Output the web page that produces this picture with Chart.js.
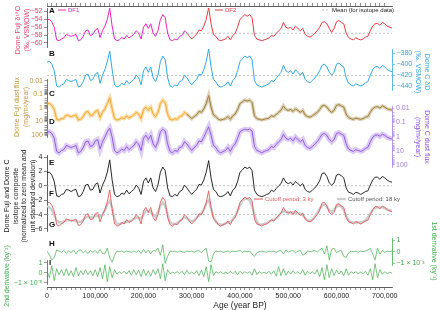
<!DOCTYPE html>
<html>
<head>
<meta charset="utf-8">
<script src="https://cdn.jsdelivr.net/npm/chart.js@4/dist/chart.umd.min.js"></script>
<style>
  html, body { margin: 0; padding: 0; background: #fff; }
  canvas { display: block; }
</style>
</head>
<body>
<canvas id="iceCores" width="440" height="310"></canvas>
<script>
// ages in ky BP (5 ky grid)
const agesKy = [
  0, 5, 10, 15, 20, 25, 30, 35, 40, 45, 50, 55,
  60, 65, 70, 75, 80, 85, 90, 95, 100, 105, 110, 115,
  120, 125, 130, 135, 140, 145, 150, 155, 160, 165, 170, 175,
  180, 185, 190, 195, 200, 205, 210, 215, 220, 225, 230, 235,
  240, 245, 250, 255, 260, 265, 270, 275, 280, 285, 290, 295,
  300, 305, 310, 315, 320, 325, 330, 335, 340, 345, 350, 355,
  360, 365, 370, 375, 380, 385, 390, 395, 400, 405, 410, 415,
  420, 425, 430, 435, 440, 445, 450, 455, 460, 465, 470, 475,
  480, 485, 490, 495, 500, 505, 510, 515, 520, 525, 530, 535,
  540, 545, 550, 555, 560, 565, 570, 575, 580, 585, 590, 595,
  600, 605, 610, 615, 620, 625, 630, 635, 640, 645, 650, 655,
  660, 665, 670, 675, 680, 685, 690, 695, 700, 705, 710, 715
];

// A: Dome Fuji d18O (permil)
const dfO18 = [
  -54.1, -54.0, -54.6, -56.0, -59.2, -59.4, -59.0, -58.7, -57.8, -58.1, -58.3, -58.1,
  -57.8, -59.4, -59.2, -58.3, -56.9, -56.7, -58.1, -57.8, -56.7, -56.3, -58.6, -56.9,
  -55.7, -54.0, -51.2, -55.7, -59.0, -59.4, -59.2, -58.6, -59.0, -58.1, -58.7, -58.3,
  -57.8, -56.9, -57.5, -59.0, -56.0, -55.1, -56.3, -55.1, -57.5, -58.3, -56.9, -54.0,
  -52.8, -53.6, -57.5, -59.2, -59.4, -59.0, -59.2, -58.3, -58.1, -56.9, -57.5, -58.3,
  -59.0, -58.3, -57.8, -56.7, -56.9, -55.7, -54.0, -51.0, -55.1, -57.8, -58.3, -59.2,
  -59.4, -59.2, -59.0, -58.3, -59.2, -58.1, -57.5, -56.0, -54.0, -53.4, -52.8, -53.2,
  -52.8, -53.6, -58.1, -59.0, -59.2, -59.4, -59.2, -59.0, -58.7, -58.1, -58.3, -57.6,
  -56.9, -56.3, -54.8, -56.0, -56.3, -56.0, -56.7, -55.7, -56.3, -56.9, -56.3, -57.8,
  -58.3, -58.5, -58.1, -57.5, -56.9, -56.0, -54.8, -54.6, -55.1, -56.3, -57.3, -56.3,
  -54.6, -54.3, -54.8, -55.1, -57.5, -58.6, -59.0, -59.2, -58.7, -59.0, -59.2, -59.0,
  -58.5, -58.3, -56.9, -55.7, -55.1, -55.0, -55.5, -54.8, -55.1, -55.7, -56.0, -56.2
];

// B: Dome C dD (permil)
const edcDD = [
  -396, -395, -400, -412, -440, -442, -438, -436, -428, -430, -432, -430,
  -428, -442, -440, -432, -420, -418, -430, -428, -418, -415, -435, -420,
  -410, -395, -376, -410, -438, -442, -440, -435, -438, -430, -436, -432,
  -428, -420, -425, -438, -412, -405, -415, -405, -425, -432, -420, -395,
  -385, -392, -425, -440, -442, -438, -440, -432, -430, -420, -425, -432,
  -438, -432, -428, -418, -420, -410, -395, -372, -405, -428, -432, -440,
  -442, -440, -438, -432, -440, -430, -425, -412, -395, -390, -385, -388,
  -385, -392, -430, -438, -440, -442, -440, -438, -436, -430, -432, -426,
  -420, -415, -402, -412, -415, -412, -418, -410, -415, -420, -415, -428,
  -432, -434, -430, -425, -420, -412, -402, -400, -405, -415, -420, -415,
  -400, -398, -402, -405, -425, -435, -438, -440, -436, -438, -440, -438,
  -434, -432, -420, -410, -405, -404, -408, -402, -405, -410, -412, -414
];

// C: Dome Fuji dust flux (mg/m2/year)
const dfDust = [
  0.5, 0.45, 0.65, 1.3, 6.9, 7.8, 6.2, 5.6, 3.3, 3.8, 4.3, 3.8,
  3.3, 7.8, 6.9, 4.3, 2.1, 1.8, 3.8, 3.3, 1.8, 1.5, 5.1, 2.1,
  1.15, 0.47, 0.17, 1.15, 6.2, 7.8, 6.9, 5.1, 6.2, 3.8, 5.6, 4.3,
  3.3, 2.1, 2.8, 6.2, 1.3, 0.85, 1.5, 0.85, 2.8, 4.3, 2.1, 0.47,
  0.26, 0.4, 2.8, 6.9, 7.8, 6.2, 6.9, 4.3, 3.8, 2.1, 2.8, 4.3,
  6.2, 4.3, 3.3, 1.8, 2.1, 1.15, 0.47, 0.12, 0.85, 3.3, 4.3, 6.9,
  7.8, 6.9, 6.2, 4.3, 6.9, 3.8, 2.8, 1.3, 0.47, 0.35, 0.26, 0.31,
  0.26, 0.4, 3.8, 6.2, 6.9, 7.8, 6.9, 6.2, 5.6, 3.8, 4.3, 3.0,
  2.1, 1.5, 0.7, 1.3, 1.5, 1.3, 1.8, 1.15, 1.5, 2.1, 1.5, 3.3,
  4.3, 4.8, 3.8, 2.8, 2.1, 1.3, 0.7, 0.63, 0.85, 1.5, 2.1, 1.5,
  0.63, 0.56, 0.7, 0.85, 2.8, 5.1, 6.2, 6.9, 5.6, 6.2, 6.9, 6.2,
  4.8, 4.3, 2.1, 1.15, 0.85, 0.8, 1.0, 0.7, 0.85, 1.15, 1.3, 1.45
];

// D: Dome C dust flux (mg/m2/year)
const edcDust = [
  0.47, 0.45, 0.6, 1.3, 11, 14, 9.5, 8.2, 4.2, 5, 5.8, 5,
  4.2, 14, 11, 5.8, 2.3, 2.0, 5, 4.2, 2.0, 1.6, 7.5, 2.3,
  1.1, 0.45, 0.25, 1.1, 9.5, 14, 11, 7.5, 9.5, 5, 8.2, 5.8,
  4.2, 2.3, 3.3, 9.5, 1.3, 0.8, 1.6, 0.8, 3.3, 5.8, 2.3, 0.45,
  0.3, 0.4, 3.3, 11, 14, 9.5, 11, 5.8, 5, 2.3, 3.3, 5.8,
  9.5, 5.8, 4.2, 2.0, 2.3, 1.1, 0.45, 0.2, 0.8, 4.2, 5.8, 11,
  14, 11, 9.5, 5.8, 11, 5, 3.3, 1.3, 0.45, 0.35, 0.3, 0.33,
  0.3, 0.4, 5, 9.5, 11, 14, 11, 9.5, 8.2, 5, 5.8, 3.6,
  2.3, 1.6, 0.68, 1.3, 1.6, 1.3, 2.0, 1.1, 1.6, 2.3, 1.6, 4.2,
  5.8, 6.8, 5, 3.3, 2.3, 1.3, 0.68, 0.6, 0.8, 1.6, 2.3, 1.6,
  0.6, 0.52, 0.68, 0.8, 3.3, 7.5, 9.5, 11, 8.2, 9.5, 11, 9.5,
  6.8, 5.8, 2.3, 1.1, 0.8, 0.75, 0.95, 0.68, 0.8, 1.1, 1.3, 1.5
];

// E: normalized isotope composite
const composite = [
  1.8, 1.9, 1.5, 0.6, -1.4, -1.5, -1.2, -1.1, -0.5, -0.6, -0.8, -0.6,
  -0.5, -1.5, -1.4, -0.8, 0.1, 0.2, -0.6, -0.5, 0.2, 0.4, -1.0, 0.1,
  0.8, 1.9, 3.6, 0.8, -1.2, -1.5, -1.4, -1.0, -1.2, -0.6, -1.1, -0.8,
  -0.5, 0.1, -0.3, -1.2, 0.6, 1.1, 0.4, 1.1, -0.3, -0.8, 0.1, 1.9,
  2.6, 2.1, -0.3, -1.4, -1.5, -1.2, -1.4, -0.8, -0.6, 0.1, -0.3, -0.8,
  -1.2, -0.8, -0.5, 0.2, 0.1, 0.8, 1.9, 3.5, 1.1, -0.5, -0.8, -1.4,
  -1.5, -1.4, -1.2, -0.8, -1.4, -0.6, -0.3, 0.6, 1.9, 2.2, 2.6, 2.4,
  2.6, 2.1, -0.6, -1.2, -1.4, -1.5, -1.4, -1.2, -1.1, -0.6, -0.8, -0.4,
  0.0, 0.3, 1.1, 0.5, 0.3, 0.5, 0.1, 0.6, 0.3, 0.0, 0.3, -0.5,
  -0.8, -0.9, -0.6, -0.3, 0.1, 0.7, 1.7, 1.8, 1.3, 0.4, 0.1, 0.4,
  1.5, 1.6, 1.4, 1.1, -0.3, -0.9, -1.0, -1.2, -0.9, -1.0, -1.2, -1.0,
  -0.8, -0.7, 0.1, 0.8, 1.2, 1.2, 0.9, 1.3, 1.1, 0.8, 0.6, 0.5
];

// F: filtered composite (shifted), 3 ky and 18 ky cutoff
const filtered3ky = [
  -2.4, -2.3, -2.7, -3.5, -5.4, -5.6, -5.3, -5.1, -4.6, -4.7, -4.9, -4.8,
  -4.6, -5.5, -5.4, -4.9, -4.0, -3.9, -4.7, -4.6, -3.9, -3.7, -5.0, -4.0,
  -3.3, -2.2, -0.6, -3.2, -5.3, -5.6, -5.5, -5.1, -5.3, -4.7, -5.1, -4.9,
  -4.6, -4.0, -4.4, -5.3, -3.5, -3.0, -3.7, -3.0, -4.4, -4.9, -4.0, -2.3,
  -1.6, -2.1, -4.4, -5.4, -5.6, -5.3, -5.4, -4.9, -4.7, -4.0, -4.4, -4.9,
  -5.3, -4.9, -4.6, -3.9, -4.0, -3.3, -2.3, -0.7, -3.0, -4.6, -4.9, -5.4,
  -5.6, -5.4, -5.3, -4.9, -5.4, -4.7, -4.4, -3.5, -2.3, -1.9, -1.6, -1.8,
  -1.6, -2.1, -4.7, -5.3, -5.4, -5.6, -5.4, -5.3, -5.1, -4.7, -4.9, -4.5,
  -4.1, -3.8, -3.0, -3.6, -3.8, -3.6, -4.0, -3.4, -3.8, -4.1, -3.8, -4.6,
  -4.9, -5.0, -4.8, -4.4, -4.0, -3.4, -2.4, -2.3, -2.8, -3.7, -4.0, -3.7,
  -2.6, -2.5, -2.8, -3.0, -4.4, -5.0, -5.1, -5.3, -5.0, -5.1, -5.3, -5.1,
  -4.9, -4.8, -4.0, -3.3, -2.9, -2.9, -3.2, -2.8, -3.0, -3.3, -3.5, -3.6
];
const filtered18ky = [
  -2.8, -3.0, -3.4, -4.1, -4.8, -5.1, -5.1, -4.9, -4.8, -4.8, -4.8, -4.8,
  -4.9, -5.0, -5.0, -4.7, -4.4, -4.3, -4.4, -4.4, -4.2, -4.2, -4.3, -4.0,
  -3.4, -2.6, -2.1, -3.1, -4.6, -5.3, -5.3, -5.2, -5.1, -5.0, -4.9, -4.8,
  -4.6, -4.4, -4.5, -4.5, -4.0, -3.5, -3.5, -3.6, -4.0, -4.3, -3.7, -2.8,
  -2.3, -2.8, -4.0, -5.0, -5.3, -5.3, -5.2, -4.9, -4.6, -4.4, -4.5, -4.8,
  -4.9, -4.8, -4.4, -4.1, -3.8, -3.3, -2.5, -2.0, -3.1, -4.3, -5.0, -5.3,
  -5.4, -5.4, -5.2, -5.1, -5.0, -4.7, -4.2, -3.5, -2.7, -2.1, -1.8, -1.8,
  -2.0, -2.8, -4.0, -5.0, -5.4, -5.4, -5.3, -5.2, -5.0, -4.8, -4.7, -4.5,
  -4.2, -3.8, -3.5, -3.6, -3.7, -3.7, -3.7, -3.7, -3.8, -3.9, -4.1, -4.5,
  -4.8, -4.9, -4.7, -4.3, -3.8, -3.2, -2.7, -2.6, -2.9, -3.4, -3.6, -3.3,
  -2.9, -2.7, -2.9, -3.4, -4.2, -4.8, -5.1, -5.1, -5.1, -5.1, -5.1, -5.0,
  -4.8, -4.4, -3.9, -3.4, -3.1, -3.0, -3.0, -3.0, -3.1, -3.3, -3.4, -3.5
];

// G: event markers (ky BP)
const eventsDF = [6, 12, 21, 27, 33, 39, 46, 52, 58, 66, 75, 85, 104, 122, 130, 139, 145, 153, 159, 168,
  176, 186, 195, 213, 220, 228, 240, 251, 257, 263, 280, 288, 294, 300, 309, 335, 350, 356, 362, 371,
  377, 385, 424, 445, 453, 462, 470, 478, 489, 499, 509, 524, 530, 536, 545, 553, 559, 582, 588, 596,
  623, 632, 640, 648, 656, 665, 673, 681];
const eventsEDC = [7, 14, 22, 28, 35, 40, 47, 54, 60, 67, 76, 87, 105, 123, 132, 140, 146, 154, 161, 169,
  177, 187, 196, 215, 221, 229, 241, 252, 258, 264, 281, 289, 295, 302, 310, 336, 351, 357, 364, 372,
  378, 386, 426, 446, 455, 463, 471, 479, 490, 500, 510, 525, 531, 537, 546, 554, 560, 583, 590, 597,
  624, 633, 641, 649, 657, 666, 674, 682];

// H: 1st derivative (x 1e-3 ky^-1)
const deriv1 = [
  0.05, -0.3, -0.7, -0.5, 0.15, 0.05, -0.05, 0.1, -0.15, 0.1, -0.1, 0.15,
  -0.2, 0.1, 0.15, -0.1, 0.05, -0.15, 0.1, -0.05, 0.1, -0.15, 0.2, -0.15,
  -0.2, 0.3, -0.5, -0.9, -0.3, 0.05, 0.0, 0.05, -0.05, 0.05, 0.0, -0.05,
  0.05, -0.05, 0.1, -0.15, 0.2, -0.1, 0.15, -0.2, 0.1, 0.05, 0.3, -0.3,
  0.6, -1.0, -0.4, 0.05, 0.0, 0.05, -0.05, 0.05, 0.0, -0.05, 0.05, 0.0,
  0.05, -0.05, 0.05, 0.1, -0.1, 0.15, 0.3, -0.8, -0.9, -0.2, 0.05, 0.0,
  0.05, -0.05, 0.0, 0.05, -0.05, 0.05, 0.0, 0.05, 0.1, -0.05, 0.05, 0.0,
  0.05, -0.2, -0.4, -0.1, 0.0, 0.05, 0.0, -0.05, 0.05, 0.0, 0.05, -0.05,
  0.05, 0.1, -0.2, 0.15, -0.05, 0.05, 0.1, -0.1, 0.05, 0.1, -0.3, -0.2,
  0.05, 0.0, 0.05, 0.1, -0.05, 0.15, 0.3, -0.2, 0.5, -0.7, 0.2, 0.3,
  -0.1, 0.05, 0.1, -0.4, -0.5, -0.1, 0.05, 0.0, 0.05, -0.05, 0.05, 0.0,
  0.05, 0.15, 0.3, -0.2, -0.7, 0.3, -0.2, 0.1, -0.05, 0.05, 0.0, 0.05
];

// I: 2nd derivative (x 1e-5 ky^-2)
const deriv2 = [
  0.2, -0.5, 0.7, -0.8, 0.4, -0.2, 0.3, -0.3, 0.4, -0.3, 0.2, -0.4,
  0.5, -0.3, 0.2, -0.2, 0.3, -0.2, 0.2, -0.3, 0.3, -0.4, 0.5, -0.6,
  0.8, -0.9, 0.6, -0.5, 0.3, -0.15, 0.1, -0.1, 0.15, -0.15, 0.2, -0.25,
  0.3, -0.2, 0.25, -0.4, 0.35, -0.3, 0.2, -0.35, 0.3, -0.2, 0.4, -0.6,
  0.9, -0.8, 0.3, -0.1, 0.05, -0.05, 0.1, -0.1, 0.15, -0.2, 0.25, -0.15,
  0.1, -0.15, 0.2, -0.3, 0.25, -0.4, 0.6, -0.9, 0.8, -0.3, 0.1, -0.05,
  0.1, -0.1, 0.05, -0.1, 0.15, -0.1, 0.15, -0.2, 0.15, -0.1, 0.1, -0.05,
  0.1, -0.25, 0.4, -0.2, 0.1, -0.05, 0.05, -0.1, 0.15, -0.15, 0.2, -0.35,
  0.6, -0.3, 0.4, -0.25, 0.15, -0.15, 0.2, -0.1, 0.1, -0.15, 0.3, -0.25,
  0.15, -0.1, 0.1, -0.15, 0.3, -0.4, 0.5, -0.7, 0.8, -0.5, 0.4, -0.3,
  0.25, -0.15, 0.2, -0.3, 0.4, -0.25, 0.1, -0.05, 0.1, -0.1, 0.05, -0.1,
  0.15, -0.25, 0.4, -0.7, 0.9, -0.5, 0.3, -0.15, 0.1, -0.1, 0.05, -0.05
];

const meanO18 = -57.5;
const meanDD = -421;
const meanComposite = 0;
const meanFiltered = -4;
const eventRowDF = -6.5;
const eventRowEDC = -6.62;

const o18Ticks = [-60, -58, -56, -54, -52];
const ddTicks = [-440, -420, -400, -380];
const dustMajor = [0.01, 0.1, 1, 10, 100];
const compTicks = [-6, -4, -2, 0, 2, 4];
const derivTicks = [-1, 0, 1];
const DF_SPLIT = 290; // DF1 / DF2 boundary, ky

const FONT = "'Liberation Sans', Arial, Helvetica, sans-serif";
Chart.defaults.font.family = FONT;
const tickFont = { family: FONT, size: 7 };

const MAGENTA = '#e324c4';
const RED = '#e8393f';
const PINK = '#e5446d';
const BLUE = '#2fa9e4';
const ORANGE = '#f5a524';
const BROWN = '#9a782c';
const DUST_LABEL = '#c49440';
const PURPLE = '#8c4fe0';
const PURPLE_LIGHT = 'rgba(178, 140, 236, 0.45)';
const F_RED = '#e05a5a';
const GREY18 = '#cdcdcd';
const GREEN = '#3fae4a';
const MEAN_GREY = '#aaaaaa';

const LEFT_W = 47;
const RIGHT_W = 48;

const dustMinor = [];
[0.01, 0.1, 1, 10].forEach(d => { for (let k = 2; k < 10; k++) dustMinor.push(+(d * k).toPrecision(2)); });
const dustTicks = dustMajor.concat(dustMinor);

const minus = v => String(v).replace('-', '\u2212');

function spacer(position, weight, stackWeight) {
  return {
    type: 'linear', position, stack: 'panels', stackWeight, weight,
    ticks: { display: false }, grid: { display: false }, border: { display: false },
    afterFit: s => { s.width = position === 'left' ? LEFT_W : RIGHT_W; }
  };
}

function valueAxis(o) {
  return {
    type: o.type || 'linear', position: o.position, stack: 'panels',
    stackWeight: o.stackWeight, weight: o.weight,
    min: o.min, max: o.max, reverse: !!o.reverse,
    afterBuildTicks: s => { s.ticks = o.ticks.map(v => ({ value: v })); },
    ticks: { autoSkip: false, padding: 1.5, color: o.labelColor, font: tickFont, callback: o.labels },
    grid: { drawOnChartArea: false, tickLength: o.tickLength || 3, color: o.lineColor, lineWidth: 0.6 },
    border: { color: o.lineColor, width: 0.8 },
    afterFit: s => { s.width = o.position === 'left' ? LEFT_W : RIGHT_W; }
  };
}

const pts = ys => agesKy.map((a, i) => ({ x: a, y: ys[i] }));
const flat = (y) => [{ x: 0, y }, { x: 715, y }];
const byCore = (c1, c2) => ({ borderColor: c => (c.p0.parsed.x < DF_SPLIT ? c1 : c2) });

const datasets = [
  // mean lines
  { data: flat(meanO18), yAxisID: 'yA', borderColor: MEAN_GREY, borderDash: [2, 2], borderWidth: 0.7, order: 5 },
  { data: flat(meanDD), yAxisID: 'yB', borderColor: MEAN_GREY, borderDash: [2, 2], borderWidth: 0.7, order: 5 },
  { data: flat(meanComposite), yAxisID: 'yE', borderColor: MEAN_GREY, borderDash: [2, 2], borderWidth: 0.7, order: 5 },
  { data: flat(meanFiltered), yAxisID: 'yE', borderColor: MEAN_GREY, borderDash: [2, 2], borderWidth: 0.7, order: 5 },
  // A
  { data: pts(dfO18), yAxisID: 'yA', borderColor: MAGENTA, borderWidth: 1, segment: byCore(MAGENTA, RED), order: 1 },
  // B
  { data: pts(edcDD), yAxisID: 'yB', borderColor: BLUE, borderWidth: 1, order: 1 },
  // C (noise band + line)
  { data: pts(dfDust), yAxisID: 'yC', borderColor: ORANGE, borderWidth: 3.5,
    segment: byCore('rgba(245,165,36,0.4)', 'rgba(154,120,44,0.35)'), order: 3 },
  { data: pts(dfDust), yAxisID: 'yC', borderColor: ORANGE, borderWidth: 0.9, segment: byCore(ORANGE, BROWN), order: 1 },
  // D (noise band + line)
  { data: pts(edcDust), yAxisID: 'yD', borderColor: PURPLE_LIGHT, borderWidth: 5, order: 3 },
  { data: pts(edcDust), yAxisID: 'yD', borderColor: PURPLE, borderWidth: 0.9, order: 1 },
  // E
  { data: pts(composite), yAxisID: 'yE', borderColor: '#111', borderWidth: 0.9, order: 1 },
  // F
  { data: pts(filtered18ky), yAxisID: 'yE', borderColor: GREY18, borderWidth: 2.4, order: 3 },
  { data: pts(filtered3ky), yAxisID: 'yE', borderColor: F_RED, borderWidth: 0.9, order: 1 },
  // G
  { data: eventsDF.map(a => ({ x: a, y: eventRowDF })), yAxisID: 'yE', showLine: false,
    pointStyle: 'rect', pointRadius: 1.5, pointBackgroundColor: '#ec4f6a', pointBorderWidth: 0, order: 1 },
  { data: eventsEDC.map(a => ({ x: a, y: eventRowEDC })), yAxisID: 'yE', showLine: false,
    pointStyle: 'rect', pointRadius: 1.5, pointBackgroundColor: '#6a3fe0', pointBorderWidth: 0, order: 1 },
  // H, I
  { data: pts(deriv1), yAxisID: 'yH', borderColor: GREEN, borderWidth: 0.7, order: 1 },
  { data: pts(deriv2), yAxisID: 'yI', borderColor: GREEN, borderWidth: 0.7, order: 1 }
];

const panelLetters = [
  ['A', 'yA', -51.8], ['B', 'yB', -380], ['C', 'yC', 0.085], ['D', 'yC', 11],
  ['E', 'yE', 3.2], ['F', 'yE', -1.1], ['G', 'yE', -5.4], ['H', 'yH', 0.66], ['I', 'yI', 1.0]
];

const sideTitles = [
  { lines: ['Dome Fuji \u03b4\u00b9\u2078O', '(\u2030, VSMOW)'], color: PINK, x: 18, y: 30, gap: 9.5, rot: -1 },
  { lines: ['Dome Fuji dust flux', '(mg/m\u00b2/year)'], color: DUST_LABEL, x: 17, y: 107, gap: 9.5, rot: -1 },
  { lines: ['Dome Fuji and Dome C', 'isotope composite', '(normalized to zero mean and', 'unit standard deviation)'],
    color: '#222', x: 7.5, y: 196, gap: 8.5, rot: -1 },
  { lines: ['2nd derivative (ky\u207b\u00b2)'], color: GREEN, x: 7.5, y: 276, gap: 0, rot: -1 },
  { lines: ['Dome C \u03b4D', '(\u2030, VSMOW)'], color: BLUE, x: 427, y: 72, gap: 9, rot: 1 },
  { lines: ['Dome C dust flux', '(mg/m\u00b2/year)'], color: PURPLE, x: 427, y: 137, gap: 9.5, rot: 1 },
  { lines: ['1st derivative (ky\u207b\u00b9)'], color: GREEN, x: 434, y: 251, gap: 0, rot: 1 }
];

const legendItems = [
  { label: 'DF1', color: MAGENTA, text: MAGENTA, x: 58, y: 10, len: 8, width: 1 },
  { label: 'DF2', color: RED, text: RED, x: 215, y: 10, len: 8, width: 1 },
  { label: 'Mean (for isotope data)', color: MEAN_GREY, text: '#222', x: 322, y: 10, len: 8, width: 0.8, dash: [2, 2] },
  { label: 'Cutoff period: 3 ky', color: F_RED, text: F_RED, x: 254, y: 199, len: 9, width: 1 },
  { label: 'Cutoff period: 18 ky', color: GREY18, text: '#555', x: 337, y: 199, len: 9, width: 2.4 }
];

const annotate = {
  id: 'annotate',
  afterDraw(chart) {
    const { ctx, scales } = chart;
    ctx.save();
    ctx.textBaseline = 'middle';

    ctx.font = 'bold 8px ' + FONT;
    ctx.fillStyle = '#111';
    ctx.textAlign = 'left';
    panelLetters.forEach(([t, axis, v]) => {
      ctx.fillText(t, chart.chartArea.left + 2, scales[axis].getPixelForValue(v));
    });

    ctx.font = '7px ' + FONT;
    ctx.textAlign = 'center';
    sideTitles.forEach(t => {
      ctx.save();
      ctx.translate(t.x, t.y);
      ctx.rotate(t.rot * Math.PI / 2);
      ctx.fillStyle = t.color;
      t.lines.forEach((line, i) => ctx.fillText(line, 0, i * t.gap));
      ctx.restore();
    });

    ctx.font = '8.5px ' + FONT;
    ctx.fillStyle = '#222';
    ctx.fillText('Age (year BP)', scales.x.getPixelForValue(400), 305.5);

    ctx.font = '6px ' + FONT;
    ctx.textAlign = 'left';
    legendItems.forEach(it => {
      ctx.beginPath();
      ctx.setLineDash(it.dash || []);
      ctx.strokeStyle = it.color;
      ctx.lineWidth = it.width;
      ctx.moveTo(it.x, it.y);
      ctx.lineTo(it.x + it.len, it.y);
      ctx.stroke();
      ctx.setLineDash([]);
      ctx.fillStyle = it.text;
      ctx.fillText(it.label, it.x + it.len + 2, it.y);
    });
    ctx.restore();
  }
};

const xTickCfg = {
  type: 'linear', min: 0, max: 715,
  afterBuildTicks: s => { s.ticks = s.ticks.filter(t => t.value % 10 === 0); },
  grid: { drawOnChartArea: false, tickLength: 3, color: '#444', lineWidth: 0.6 },
  border: { color: '#333', width: 0.8 }
};

new Chart(document.getElementById('iceCores'), {
  type: 'line',
  data: { datasets },
  options: {
    responsive: false,
    animation: false,
    devicePixelRatio: 1,
    layout: { padding: 0 },
    plugins: { legend: { display: false }, tooltip: { enabled: false } },
    elements: { point: { radius: 0 }, line: { tension: 0 } },
    scales: {
      x: Object.assign({}, xTickCfg, {
        position: 'bottom',
        ticks: { stepSize: 10, autoSkip: false, maxRotation: 0, padding: 2, color: '#222', font: tickFont,
          callback: v => (v % 100 === 0 ? (v * 1000).toLocaleString('en-US') : '') },
        afterFit: s => { s.height = 23; }
      }),
      x2: Object.assign({}, xTickCfg, {
        position: 'top',
        ticks: { stepSize: 10, display: false },
        afterFit: s => { s.height = 6; }
      }),

      // left column, top to bottom (higher weight first)
      yL0: spacer('left', 9, 2),
      yA: valueAxis({ position: 'left', weight: 8, stackWeight: 39, min: -61.016, max: -51.111,
        ticks: o18Ticks, labels: minus, labelColor: PINK, lineColor: '#444' }),
      yL1: spacer('left', 7, 32),
      yC: valueAxis({ type: 'logarithmic', position: 'left', weight: 6, stackWeight: 58, min: 0.00711, max: 140.6,
        reverse: true, ticks: dustTicks, labels: v => (dustMajor.includes(v) ? String(v) : ''),
        labelColor: DUST_LABEL, lineColor: '#555', tickLength: 2.5 }),
      yL2: spacer('left', 5, 18),
      yE: valueAxis({ position: 'left', weight: 4, stackWeight: 76, min: -6.28, max: 4.28,
        ticks: compTicks, labels: minus, labelColor: '#222', lineColor: '#333' }),
      yL3: spacer('left', 3, 29),
      yI: valueAxis({ position: 'left', weight: 2, stackWeight: 24, min: -1.13, max: 1.27,
        ticks: derivTicks, labels: v => (v === -1 ? '\u22121 \u00d7 10\u207b\u2075' : String(v)),
        labelColor: GREEN, lineColor: '#555' }),
      yL4: spacer('left', 1, 3),

      // right column, top to bottom (lower weight first)
      yR0: spacer('right', 1, 43),
      yB: valueAxis({ position: 'right', weight: 2, stackWeight: 41, min: -447.34, max: -372.11,
        ticks: ddTicks, labels: minus, labelColor: BLUE, lineColor: BLUE }),
      yR1: spacer('right', 3, 16),
      yD: valueAxis({ type: 'logarithmic', position: 'right', weight: 4, stackWeight: 61, min: 0.00689, max: 138.4,
        reverse: true, ticks: dustTicks, labels: v => (dustMajor.includes(v) ? String(v) : ''),
        labelColor: '#a57ae6', lineColor: '#a57ae6', tickLength: 2.5 }),
      yR2: spacer('right', 5, 71),
      yH: valueAxis({ position: 'right', weight: 6, stackWeight: 27, min: -1.146, max: 1.172,
        ticks: derivTicks, labels: v => (v === -1 ? '\u22121 \u00d7 10\u207b\u00b3' : String(v)),
        labelColor: GREEN, lineColor: GREEN }),
      yR3: spacer('right', 7, 22)
    }
  },
  plugins: [annotate]
});
</script>
</body>
</html>
